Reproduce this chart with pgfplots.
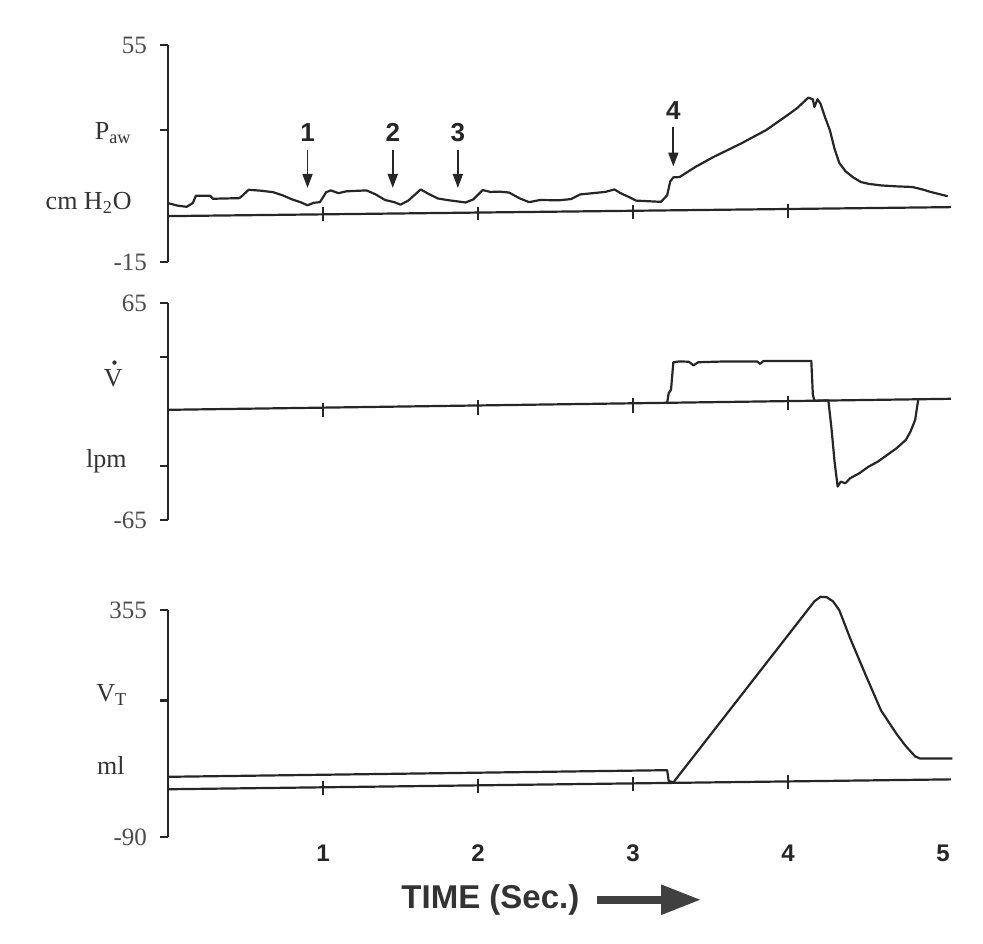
\documentclass[border=0pt]{standalone}
\usepackage{fontspec}
\setmainfont{Liberation Serif}
\newfontfamily\sansf{Liberation Sans}
\usepackage{pgfplots}
\pgfplotsset{compat=1.18}
\usetikzlibrary{arrows.meta}
\definecolor{ink}{gray}{0.15}
\pgfplotsset{
  panel/.style={
    scale only axis, width=391.4pt, xmin=0, xmax=5.05, anchor=south west,
    axis lines*=left, x axis line style={draw=none}, xtick=\empty,
    ytick pos=left, xtick pos=left, tick align=outside, major tick length=4pt,
    clip=false,
    axis line style={line width=1.3pt, ink},
    every tick/.style={line width=1.2pt, ink},
    yticklabel style={font=\fontsize{12.5}{13}\selectfont, text=black!70, xshift=-3pt},
    /pgf/number format/assume math mode=true,
  },
  trace/.style={line width=1.1pt, ink, line join=round, mark=none},
  tk/.style={line width=1.1pt, ink, mark=none, unbounded coords=jump},
}
\tikzset{lbl/.style={anchor=base east, inner sep=0pt, font=\fontsize{13}{14}\selectfont, text=black!80}}
\newcommand\arr{\sansf\bfseries\fontsize{13}{13}\selectfont}
\begin{document}
\begin{tikzpicture}
\useasboundingbox (0,0) rectangle (491.5pt,471.5pt);
% ---------------- Paw ----------------
\begin{axis}[panel, at={(84pt,340.5pt)}, height=108.5pt,
  ymin=-15, ymax=55, ytick={-15,27.5,55}, yticklabels={-15,,55}]
\addplot[trace] coordinates {(0,-0.2) (5.05,2.7)};
\addplot[tk] coordinates {(1,-1.9) (1,2.6) (2,nan) (2,-1.6) (2,2.9) (3,nan) (3,-1.1) (3,3.4) (4,nan) (4,-0.8) (4,3.7)};
\addplot[trace] coordinates {
(0,4.0) (0.06,3.2) (0.12,2.8) (0.16,4.0) (0.18,6.4) (0.27,6.4) (0.29,5.4) (0.46,5.6) (0.48,6.4)
(0.52,8.3) (0.60,8.0) (0.68,7.5) (0.74,6.5) (0.80,5.2) (0.86,4.2) (0.90,3.3) (0.94,4.1) (0.98,4.3)
(1.02,7.5) (1.05,8.1) (1.10,7.2) (1.15,7.8) (1.28,8.1) (1.34,6.8) (1.40,5.0) (1.46,4.3) (1.50,3.5)
(1.55,4.8) (1.63,8.4) (1.68,7.0) (1.74,5.5) (1.80,5.0) (1.86,4.6) (1.92,4.2) (1.97,5.2) (2.03,8.2)
(2.08,7.6) (2.14,7.7) (2.20,7.4) (2.27,5.5) (2.33,4.3) (2.40,5.0) (2.52,4.9) (2.60,5.3) (2.66,6.8)
(2.74,7.2) (2.82,7.6) (2.88,8.4) (2.92,7.2) (2.98,5.8) (3.02,4.8) (3.10,4.6) (3.18,4.4) (3.22,6.5)
(3.24,11.0) (3.26,12.3) (3.30,12.4) (3.40,15.6) (3.52,18.9) (3.70,23.3) (3.86,27.6) (4.00,32.5)
(4.06,34.7) (4.13,38.0) (4.16,37.5) (4.17,35.0) (4.19,37.5) (4.21,36.0) (4.24,31.5) (4.27,27.5)
(4.30,21.5) (4.33,17.0) (4.37,14.3) (4.42,12.3) (4.47,10.8) (4.52,10.2) (4.60,9.7) (4.70,9.4)
(4.80,9.2) (4.86,8.5) (4.92,7.6) (5.00,6.6) (5.03,6.2)};
\node[lbl] at (axis cs:-0.232,24.4) {P\textsubscript{aw}};
\node[lbl] at (axis cs:-0.232,1.8) {cm H\textsubscript{2}O};
\draw[line width=0.9pt, ink, -{Triangle[width=5pt,length=7pt]}] (axis cs:0.90,21.1) -- (axis cs:0.90,8.9);
\draw[line width=0.9pt, ink, -{Triangle[width=5pt,length=7pt]}] (axis cs:1.45,21.1) -- (axis cs:1.45,8.9);
\draw[line width=0.9pt, ink, -{Triangle[width=5pt,length=7pt]}] (axis cs:1.87,21.1) -- (axis cs:1.87,8.9);
\node[font=\arr, text=ink] at (axis cs:0.90,26.9) {1};
\node[font=\arr, text=ink] at (axis cs:1.45,26.9) {2};
\node[font=\arr, text=ink] at (axis cs:1.87,26.9) {3};
\draw[line width=0.9pt, ink, -{Triangle[width=5pt,length=7pt]}] (axis cs:3.26,28.5) -- (axis cs:3.26,15.8);
\node[font=\arr, text=ink] at (axis cs:3.26,34.0) {4};
\end{axis}
% ---------------- Flow ----------------
\begin{axis}[panel, at={(84pt,211.5pt)}, height=108.5pt,
  ymin=-65, ymax=65, ytick={-65,-32.5,32.5,65}, yticklabels={-65,,,65}]
\addplot[trace] coordinates {(0,1) (5.05,7.6)};
\addplot[tk] coordinates {(1,-3.3) (1,5.3) (2,nan) (2,-2.0) (2,6.6) (3,nan) (3,-0.7) (3,7.9) (4,nan) (4,0.6) (4,9.2)};
\addplot[trace] coordinates {
(3.22,5.2) (3.23,11) (3.245,13) (3.26,29.5) (3.30,30) (3.36,29.8) (3.39,27.6) (3.42,29.5) (3.60,30)
(3.80,30) (3.82,28.5) (3.84,30.2) (4.15,30.3) (4.16,10) (4.17,6.5) (4.26,6.6) (4.28,-10) (4.30,-30)
(4.32,-45) (4.34,-42) (4.37,-43) (4.40,-40) (4.46,-37) (4.52,-33) (4.58,-30) (4.64,-26) (4.70,-22)
(4.76,-17) (4.79,-12) (4.82,-5) (4.84,7.3)};
\node[lbl] at (axis cs:-0.29,14.7) {V};
\fill[black!80] (axis cs:-0.345,29.3) circle (1.1pt);
\node[lbl] at (axis cs:-0.265,-33.8) {lpm};
\end{axis}
% ---------------- Volume ----------------
\begin{axis}[panel, at={(84pt,53pt)}, height=113.5pt,
  ymin=-90, ymax=355, ytick={-90,178,355}, yticklabels={-90,,355},
  xtick={1,2,3,4,5}, xtick style={draw=none},
  xticklabel style={font=\sansf\bfseries\fontsize{12}{12}\selectfont, text=ink, yshift=3.5pt}]
\addplot[trace] coordinates {(0,3.6) (5.05,23)};
\addplot[tk] coordinates {(1,-8) (1,19) (2,nan) (2,-4) (2,23) (3,nan) (3,0) (3,27) (4,nan) (4,4) (4,31)};
\addplot[trace] coordinates {
(0,28) (3.22,41) (3.23,20) (3.26,17) (4.17,372) (4.21,381) (4.25,380) (4.29,372) (4.33,355)
(4.40,300) (4.50,228) (4.60,158) (4.70,112) (4.76,88) (4.82,68) (4.85,64) (5.06,64)};
\node[lbl] at (axis cs:-0.26,174.7) {V\textsubscript{T}};
\node[lbl] at (axis cs:-0.277,31.6) {ml};
\node[font=\sansf\bfseries\fontsize{16.5}{17}\selectfont, text=black!80] at (axis cs:2.08,-213) {TIME (Sec.)};
\draw[line width=4pt, black!75, -{Triangle[width=14pt,length=20pt]}] (axis cs:2.77,-213) -- (axis cs:3.44,-213);
\end{axis}
\end{tikzpicture}
\end{document}
